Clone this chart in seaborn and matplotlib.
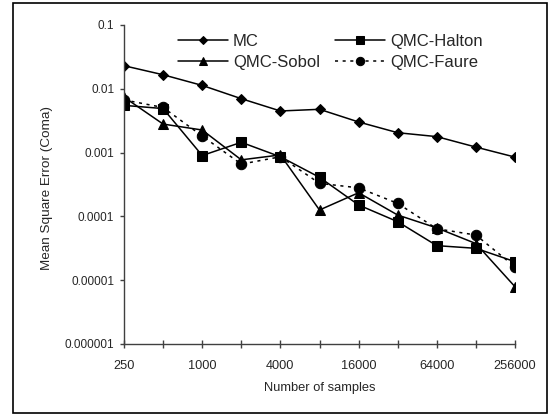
import matplotlib
matplotlib.use("Agg")
import matplotlib.pyplot as plt
import matplotlib.ticker as mticker
from matplotlib.patches import Rectangle
import seaborn as sns
import pandas as pd

samples = [250, 500, 1000, 2000, 4000, 8000, 16000, 32000, 64000, 128000, 256000]
mc = [0.023, 0.0166, 0.0113, 0.0070, 0.00449, 0.00477, 0.00302, 0.00205, 0.00178, 0.00122, 0.00085]
halton = [0.0055, 0.0049, 0.00090, 0.00145, 0.00086, 0.00041, 0.000151, 0.0000826, 0.0000348, 0.0000316, 0.0000195]
sobol = [0.0074, 0.0028, 0.00226, 0.00077, 0.00092, 0.000126, 0.000235, 0.000105, 0.000066, 0.0000375, 0.0000079]
faure = [0.0067, 0.0051, 0.00182, 0.00066, 0.00086, 0.00033, 0.00028, 0.00016, 0.000064, 0.000051, 0.0000162]
xtick_labels = ["250", "", "1000", "", "4000", "", "16000", "", "64000", "", "256000"]
yticks = [1e-6, 1e-5, 1e-4, 1e-3, 1e-2, 1e-1]
ytick_labels = ["0.000001", "0.00001", "0.0001", "0.001", "0.01", "0.1"]

sns.set_style("white")
plt.rcParams["font.family"] = ["Liberation Sans", "DejaVu Sans"]

fig = plt.figure(figsize=(5.58, 4.16), dpi=100)
ax = fig.add_axes([124 / 558, 1 - 344 / 416, (515 - 124) / 558, (344 - 25) / 416])

series = [
    ("MC", mc, "D", 5.5, "-"),
    ("QMC-Sobol", sobol, "^", 7, "-"),
    ("QMC-Halton", halton, "s", 7, "-"),
    ("QMC-Faure", faure, "o", 7.5, (0, (2, 3))),
]
for name, vals, mk, ms, ls in series:
    df = pd.DataFrame({"samples": samples, "err": vals})
    sns.lineplot(data=df, x="samples", y="err", ax=ax, color="black", marker=mk,
                 markersize=ms, markeredgecolor="black", markerfacecolor="black",
                 linewidth=1.1, linestyle=ls, label=name)

ax.set_xscale("log")
ax.set_yscale("log")
ax.set_xlim(250, 256000)
ax.set_ylim(1e-6, 1e-1)
ax.xaxis.set_major_locator(mticker.FixedLocator(samples))
ax.xaxis.set_major_formatter(mticker.FixedFormatter(xtick_labels))
ax.xaxis.set_minor_locator(mticker.NullLocator())
ax.yaxis.set_major_locator(mticker.FixedLocator(yticks))
ax.yaxis.set_major_formatter(mticker.FixedFormatter(ytick_labels))
ax.yaxis.set_minor_locator(mticker.NullLocator())

for s in ["top", "right"]:
    ax.spines[s].set_visible(False)
for s in ["left", "bottom"]:
    ax.spines[s].set_color("#404040")
    ax.spines[s].set_linewidth(1.0)

ax.tick_params(axis="y", direction="out", length=3, width=1, color="#404040",
               labelsize=8.5, pad=4, left=True)
ax.tick_params(axis="x", direction="inout", length=6, width=1, color="#404040",
               labelsize=9.2, pad=8.5, bottom=True)

ax.set_xlabel("Number of samples", fontsize=9.3, labelpad=7)
ax.set_ylabel("Mean Square Error (Coma)", fontsize=9.7)
ax.yaxis.set_label_coords(-0.182, 0.49)

handles, labels = ax.get_legend_handles_labels()
leg = ax.legend(handles, labels, ncol=2, frameon=False, fontsize=12,
                loc="upper left", bbox_to_anchor=(0.138, 0.972),
                handlelength=3.0, handletextpad=0.3, columnspacing=0.9,
                labelspacing=0.38, borderaxespad=0.0, borderpad=0.0,
                markerscale=0.8)

fig.add_artist(Rectangle((13 / 558, 3 / 416), (547 - 13) / 558, (413 - 3) / 416,
                         transform=fig.transFigure, fill=False,
                         edgecolor="black", linewidth=1.2))

fig.savefig("out.png", dpi=100, facecolor="white")
